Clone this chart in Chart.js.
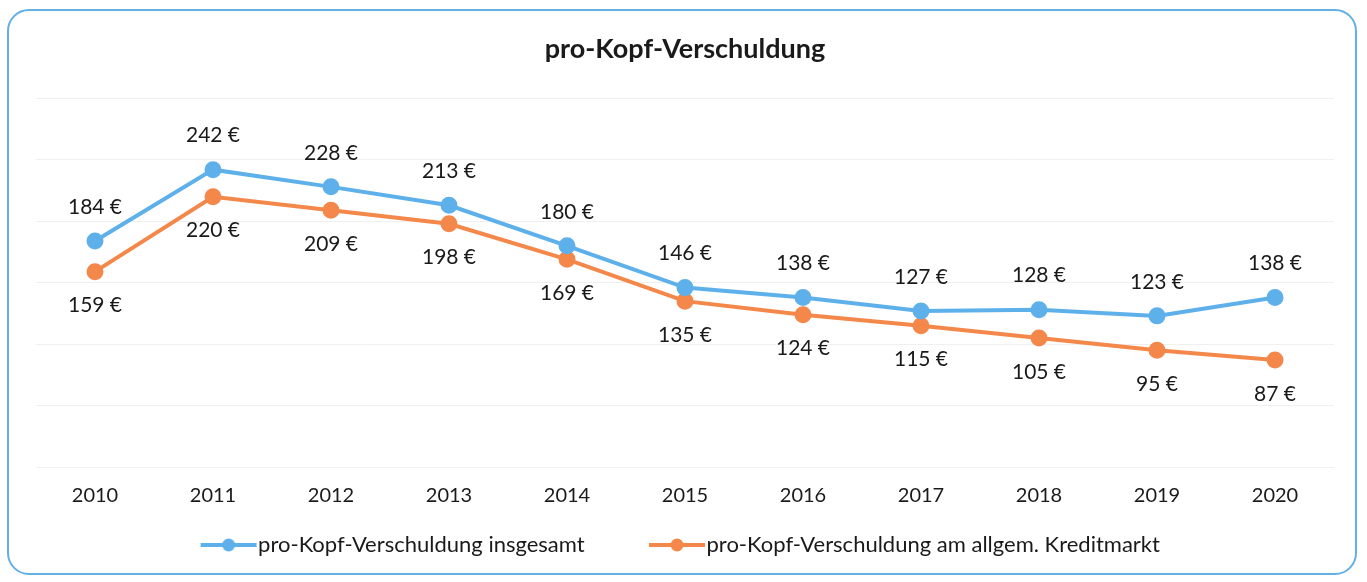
<!DOCTYPE html>
<html><head><meta charset="utf-8">
<script src="https://cdn.jsdelivr.net/npm/chart.js@4/dist/chart.umd.min.js"></script>
<style>
html,body{margin:0;padding:0;background:#fff;}
#wrap{position:relative;width:1367px;height:582px;}
#card{position:absolute;left:7px;top:9px;width:1350px;height:566px;border:2px solid #62b0e6;border-radius:22px;box-sizing:border-box;}
canvas{position:absolute;left:0;top:0;}
</style></head>
<body><div id="wrap"><div id="card"></div><canvas id="c" width="1367" height="582"></canvas></div>
<script>
const years = ['2010','2011','2012','2013','2014','2015','2016','2017','2018','2019','2020'];
const totalDebt = [184,242,228,213,180,146,138,127,128,123,138];
const creditDebt = [159,220,209,198,169,135,124,115,105,95,87];
const seriesNames = ['pro-Kopf-Verschuldung insgesamt','pro-Kopf-Verschuldung am allgem. Kreditmarkt'];
const FONT = 'Lato, "Open Sans", sans-serif';
const BLUE = '#5eb0ea', ORANGE = '#f3884a';

function legendIcon(color){
  const c = document.createElement('canvas'); c.width = 58; c.height = 16;
  const g = c.getContext('2d');
  g.strokeStyle = color; g.lineWidth = 4; g.beginPath(); g.moveTo(1,8); g.lineTo(57,8); g.stroke();
  g.fillStyle = color; g.beginPath(); g.arc(29,8,6.5,0,Math.PI*2); g.fill();
  return c;
}

const labelPlugin = {
  id:'vals',
  afterDatasetsDraw(chart){
    const ctx = chart.ctx; ctx.save();
    ctx.font = '21px ' + FONT; ctx.fillStyle = '#1a1a1a'; ctx.textAlign='center'; ctx.textBaseline='middle';
    chart.data.datasets.forEach((ds,i)=>{
      const meta = chart.getDatasetMeta(i);
      meta.data.forEach((pt,j)=>{
        const dy = i===0 ? -34 : 34;
        ctx.fillText(ds.data[j] + ' €', pt.x, pt.y + dy);
      });
    });
    ctx.restore();
  }
};

new Chart(document.getElementById('c'), {
  type:'line',
  data:{labels:years, datasets:[
    {label:seriesNames[0], data:totalDebt, borderColor:BLUE, backgroundColor:BLUE, borderWidth:4, pointRadius:6.5, pointHoverRadius:6.5, tension:0},
    {label:seriesNames[1], data:creditDebt, borderColor:ORANGE, backgroundColor:ORANGE, borderWidth:4, pointRadius:6.5, pointHoverRadius:6.5, tension:0}
  ]},
  options:{
    responsive:false, animation:false,
    layout:{padding:{left:36,right:33,top:24,bottom:16}},
    plugins:{
      title:{display:true,text:'pro-Kopf-Verschuldung',color:'#1a1a1a',font:{family:FONT,size:27,weight:'bold'},padding:{top:9,bottom:33}},
      legend:{position:'bottom',labels:{color:'#1a1a1a',font:{family:FONT,size:22},usePointStyle:true,pointStyleWidth:37,padding:12,
        generateLabels(chart){
          return chart.data.datasets.map((d,i)=>({text:d.label + (i===0?'           ':''),fontColor:'#1a1a1a',pointStyle:legendIcon(d.borderColor),datasetIndex:i,strokeStyle:d.borderColor,fillStyle:d.borderColor,lineWidth:0}));
        }}},
      tooltip:{enabled:false}
    },
    scales:{
      x:{offset:true,grid:{display:false},border:{display:false},ticks:{color:'#1a1a1a',font:{family:FONT,size:20},padding:9},
         afterFit(s){s.height += 5;}},
      y:{min:0,max:300,ticks:{display:false,stepSize:50},border:{display:false},grid:{color:'rgba(0,0,0,0.06)',drawTicks:false},
         afterFit(s){s.width=0;}}
    }
  },
  plugins:[labelPlugin]
});
</script></body></html>
